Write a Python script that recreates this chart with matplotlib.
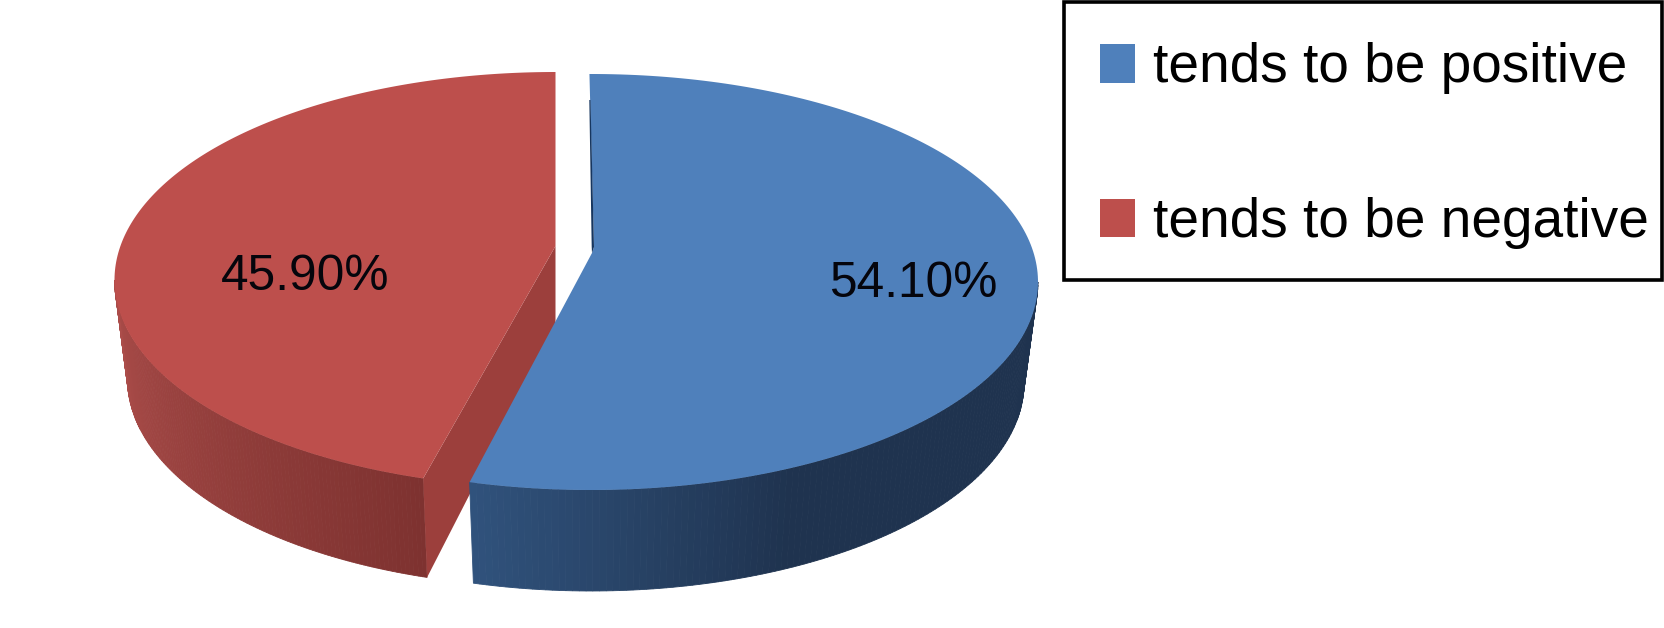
import numpy as np
import matplotlib
matplotlib.use('Agg')
import matplotlib.pyplot as plt
from matplotlib.patches import Patch, Polygon, Rectangle
from matplotlib.colors import to_rgb

plt.rcParams['font.family'] = ['Liberation Sans', 'DejaVu Sans']

labels = ['tends to be positive', 'tends to be negative']
shares = [54.10, 45.90]
share_text = ['54.10%', '45.90%']

BLUE = '#4f80bb'
RED = '#bd4f4c'


def ring(t, cx, cy, rx, ry):
    # t in degrees, clockwise from the top of the ellipse
    r = np.radians(t)
    return np.column_stack([cx + rx * np.sin(r), cy - ry * np.cos(r)])


def mix(c1, c2, f):
    a, b = np.array(to_rgb(c1)), np.array(to_rgb(c2))
    return tuple(a + (b - a) * f)


def wall(ax, t0, t1, top, bottom, colors, z):
    ts = np.linspace(t0, t1, 120)
    up = ring(ts, *top)
    low = ring(ts, *bottom)
    for i in range(len(ts) - 1):
        c = colors(i / (len(ts) - 2))
        ax.add_patch(Polygon([up[i], up[i + 1], low[i + 1], low[i]], closed=True,
                             facecolor=c, edgecolor=c, lw=0.6, zorder=z))


fig = plt.figure(figsize=(16.64, 6.28), dpi=100)
ax = fig.add_axes([0, 0, 1, 1])
ax.set_xlim(0, 1664)
ax.set_ylim(628, 0)
ax.axis('off')

# red slice, pulled to the left
red_top = (555.5, 280, 441, 208)
red_low = (555.5, 379, 428, 208)
red_end = 360 - (shares[1] * 3.6 - 2.7)
wall(ax, red_end, 270, red_top, red_low,
     lambda f: mix('#7e3230', '#ac4d4a', f), 1)
p_top = ring(red_end, *red_top)[0]
p_low = ring(red_end, *red_low)[0]
ax.add_patch(Polygon([(555.5, 246), p_top, p_low, (555.5, 327)], closed=True,
                     facecolor='#9c3f3c', edgecolor='none', zorder=2))
arc = ring(np.linspace(red_end, 360, 200), *red_top)
ax.add_patch(Polygon(np.vstack([arc, [(555.5, 246)]]), closed=True,
                     facecolor=RED, edgecolor='none', zorder=3))

# blue slice
blue_top = (591, 282, 447, 208)
blue_low = (591, 383, 433, 208)
blue_end = shares[0] * 3.6 + 1
wall(ax, 90, blue_end, blue_top, blue_low,
     lambda f: mix('#1f334f', '#30527c', min(1, max(0, (f - 0.6) / 0.4))), 4)
arc = ring(np.linspace(-0.2, blue_end, 200), *blue_top)
ax.add_patch(Polygon(np.vstack([arc, [(592, 253), (594, 247)]]), closed=True,
                     facecolor=BLUE, edgecolor='none', zorder=5))
ax.add_patch(Polygon([(589.3, 100), (591.7, 247), (592, 253), (594, 247), (590.5, 100)],
                     closed=True, facecolor='#17365f', edgecolor='none', zorder=6))

ax.text(913, 284, share_text[0], fontsize=35.7, ha='center', va='center', color='#05050c', zorder=7)
ax.text(305, 277, share_text[1], fontsize=35.7, ha='center', va='center', color='#05050c', zorder=7)

# frame is separate because the legend padding is not even on both sides
ax.add_patch(Rectangle((1064, 2), 598, 278, facecolor='white', edgecolor='black', lw=2.6, zorder=8))
handles = [Patch(facecolor=BLUE, edgecolor='none'), Patch(facecolor=RED, edgecolor='none')]
leg = ax.legend(handles, labels, loc='upper left', bbox_to_anchor=(1066, 8.4),
                bbox_transform=ax.transData, fontsize=39.6, frameon=False,
                labelspacing=1.87, handlelength=0.64,
                handleheight=0.7, handletextpad=0.33, borderpad=0.62, borderaxespad=0)
leg.set_zorder(9)

fig.savefig('out.png', dpi=100)
